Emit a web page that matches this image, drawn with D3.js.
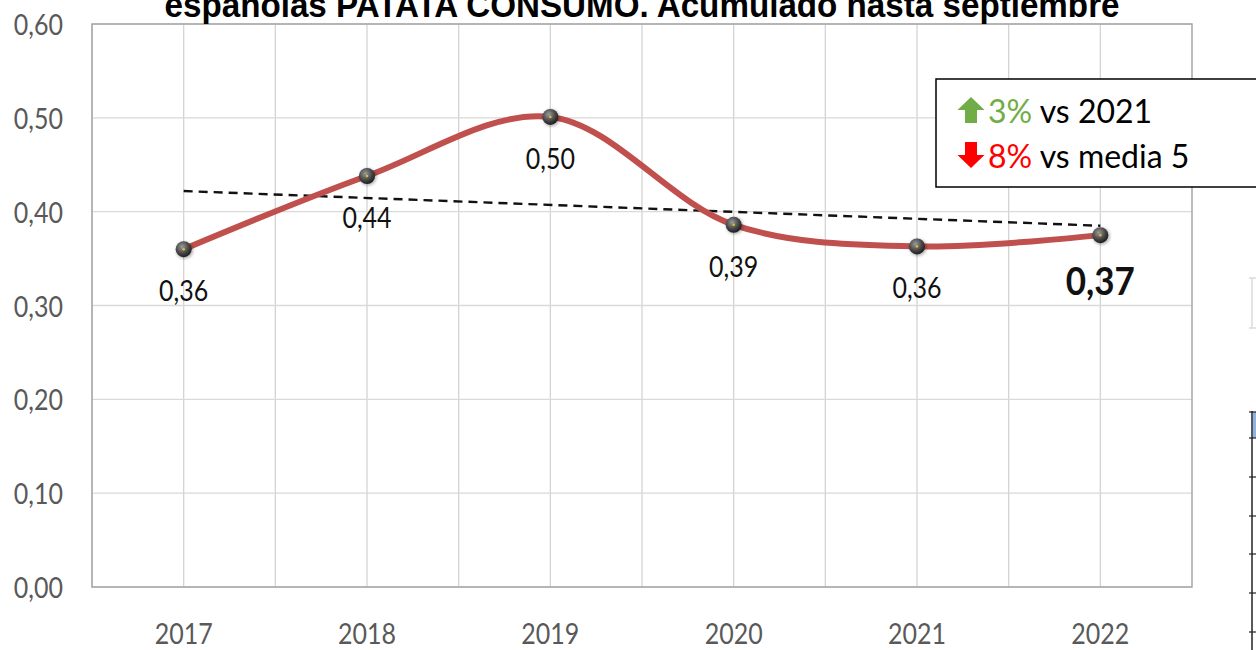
<!DOCTYPE html>
<html>
<head>
<meta charset="utf-8">
<script src="https://cdn.jsdelivr.net/npm/d3@7"></script>
<style>
  body { margin: 0; background: #fff; }
  svg { display: block; }
</style>
</head>
<body>
<div id="chart"></div>
<script>
// datos
const years = ['2017', '2018', '2019', '2020', '2021', '2022']
const values = [0.360, 0.438, 0.501, 0.386, 0.363, 0.375]
const labels = ['0,36', '0,44', '0,50', '0,39', '0,36', '0,37']
const trend = [0.422, 0.385] // extremos de la línea de tendencia
const yTicks = [0, 0.1, 0.2, 0.3, 0.4, 0.5, 0.6]
const titleText = 'españolas PATATA CONSUMO. Acumulado hasta septiembre'

const width = 1256
const height = 650
const margin = {top: 24, left: 92, right: 64, bottom: 63}
const stretch = 1.17 // el original está estirado en vertical
const font = 'Lato, "Open Sans", sans-serif'

const svg = d3.select('#chart').append('svg').attr('width', width).attr('height', height)

const x = d3.scaleBand().domain(years).range([margin.left, width - margin.right])
const y = d3.scaleLinear().domain([0, 0.6]).range([height - margin.bottom, margin.top])
const cx = d => x(d) + x.bandwidth() / 2

// rejilla
const g = svg.append('g')
const vlines = []
years.forEach(d => { vlines.push(x(d)); vlines.push(cx(d)) })
g.selectAll('.vgrid').data(vlines).join('line')
  .attr('x1', d => d).attr('x2', d => d)
  .attr('y1', y(0.6)).attr('y2', y(0))
  .attr('stroke', '#d4d4d4').attr('stroke-width', 1.3)
g.selectAll('.hgrid').data(yTicks).join('line')
  .attr('x1', margin.left).attr('x2', width - margin.right)
  .attr('y1', d => y(d)).attr('y2', d => y(d))
  .attr('stroke', '#d9d9d9').attr('stroke-width', 1.3)
g.append('rect').attr('x', margin.left).attr('y', y(0.6))
  .attr('width', width - margin.right - margin.left).attr('height', y(0) - y(0.6))
  .attr('fill', 'none').attr('stroke', '#a6a6a6').attr('stroke-width', 1.5)

// ejes
const yAxis = d3.axisLeft(y).tickValues(yTicks).tickSize(0)
  .tickFormat(d => d3.format('.2f')(d).replace('.', ','))
svg.append('g').attr('transform', `translate(${margin.left},0)`).call(yAxis)
  .call(a => a.select('.domain').remove())
  .selectAll('text')
  .attr('x', 0).attr('y', 0).attr('dy', null)
  .attr('transform', `translate(-29,10.5) scale(1,${stretch})`)
  .attr('font-family', font).attr('font-size', 25).attr('fill', '#595959')

const xAxis = d3.axisBottom(x).tickSize(0)
svg.append('g').attr('transform', `translate(0,${y(0)})`).call(xAxis)
  .call(a => a.select('.domain').remove())
  .selectAll('text')
  .attr('y', 0).attr('dy', null)
  .attr('transform', `translate(0,57) scale(1,${stretch})`)
  .attr('font-family', font).attr('font-size', 25).attr('fill', '#595959')

// línea de tendencia
svg.append('line')
  .attr('x1', cx(years[0])).attr('y1', y(trend[0]))
  .attr('x2', cx(years[years.length - 1])).attr('y2', y(trend[1]))
  .attr('stroke', '#111').attr('stroke-width', 2.4).attr('stroke-dasharray', '9,6')

// serie suavizada
const line = d3.line().x((d, i) => cx(years[i])).y(d => y(d)).curve(d3.curveCatmullRom.alpha(0.5))
svg.append('path').datum(values).attr('d', line)
  .attr('fill', 'none').attr('stroke', '#c0504d').attr('stroke-width', 6)
  .attr('stroke-linecap', 'round')

// marcadores
const defs = svg.append('defs')
const grad = defs.append('radialGradient').attr('id', 'ball').attr('cx', '40%').attr('cy', '35%').attr('r', '65%')
grad.append('stop').attr('offset', '0%').attr('stop-color', '#9a9a9a')
grad.append('stop').attr('offset', '60%').attr('stop-color', '#4a4a4a')
grad.append('stop').attr('offset', '100%').attr('stop-color', '#1e1e1e')
const blur = defs.append('filter').attr('id', 'sh').attr('x', '-50%').attr('y', '-50%').attr('width', '200%').attr('height', '200%')
blur.append('feGaussianBlur').attr('stdDeviation', 1.6)

svg.selectAll('.shadow').data(values).join('circle')
  .attr('cx', (d, i) => cx(years[i]) + 1).attr('cy', d => y(d) + 1).attr('r', 8.5)
  .attr('fill', '#000').attr('opacity', 0.3).attr('filter', 'url(#sh)')
svg.selectAll('.dot').data(values).join('circle')
  .attr('cx', (d, i) => cx(years[i])).attr('cy', d => y(d)).attr('r', 8)
  .attr('fill', 'url(#ball)')
svg.selectAll('.dotc').data(values).join('circle')
  .attr('cx', (d, i) => cx(years[i])).attr('cy', d => y(d)).attr('r', 1.2)
  .attr('fill', '#e8c020')

// etiquetas de datos
const last = values.length - 1
svg.selectAll('.lbl').data(values).join('text')
  .attr('transform', (d, i) => `translate(${cx(years[i])},${y(d) + (i === last ? 60 : 52)}) scale(1,${i === last ? 1.08 : stretch})`)
  .attr('text-anchor', 'middle')
  .attr('font-family', font)
  .attr('font-size', (d, i) => i === last ? 35 : 25)
  .attr('font-weight', (d, i) => i === last ? 'bold' : 'normal')
  .attr('fill', '#111')
  .text((d, i) => labels[i])

// título (recortado arriba, como en el original)
svg.append('text').attr('transform', `translate(642,17) scale(1,1.15)`).attr('text-anchor', 'middle')
  .attr('font-family', '"Liberation Sans", Arial, sans-serif').attr('font-weight', 'bold')
  .attr('font-size', 30).attr('textLength', 955).attr('lengthAdjust', 'spacingAndGlyphs')
  .attr('fill', '#000').text(titleText)

// cuadro de comparación
const box = svg.append('g')
box.append('rect').attr('x', 936).attr('y', 79).attr('width', 340).attr('height', 108)
  .attr('fill', '#fff').attr('stroke', '#000').attr('stroke-width', 1.5)
const arrowUp = 'M0,-13 L13.5,0 L6,0 L6,13 L-6,13 L-6,0 L-13.5,0 Z'
box.append('path').attr('d', arrowUp).attr('transform', 'translate(971,110)').attr('fill', '#70ad47')
box.append('path').attr('d', arrowUp).attr('transform', 'translate(971,155) rotate(180)').attr('fill', '#ff0000')
const t1 = box.append('text').attr('x', 988).attr('y', 123)
  .attr('font-family', font).attr('font-size', 32)
t1.append('tspan').attr('fill', '#70ad47').text('3%')
t1.append('tspan').attr('fill', '#000').text(' vs 2021')
const t2 = box.append('text').attr('x', 988).attr('y', 168)
  .attr('font-family', font).attr('font-size', 32)
t2.append('tspan').attr('fill', '#ff0000').text('8%')
t2.append('tspan').attr('fill', '#000').text(' vs media 5')

// restos de la tabla a la derecha
svg.append('path').attr('d', 'M1249,278 L1256,278 M1252,278 L1252,328 M1249,328 L1256,328')
  .attr('stroke', '#dcdcdc').attr('stroke-width', 1.5).attr('fill', 'none')
svg.append('rect').attr('x', 1253).attr('y', 412).attr('width', 3).attr('height', 26).attr('fill', '#8db4e2')
svg.append('line').attr('x1', 1252).attr('x2', 1252).attr('y1', 411).attr('y2', 650)
  .attr('stroke', '#222').attr('stroke-width', 1.5)
const rows = [412, 438, 477, 516, 554, 593, 632]
svg.selectAll('.row').data(rows).join('line')
  .attr('x1', 1249).attr('x2', 1256).attr('y1', d => d).attr('y2', d => d)
  .attr('stroke', '#222').attr('stroke-width', 1.2)
</script>
</body>
</html>
